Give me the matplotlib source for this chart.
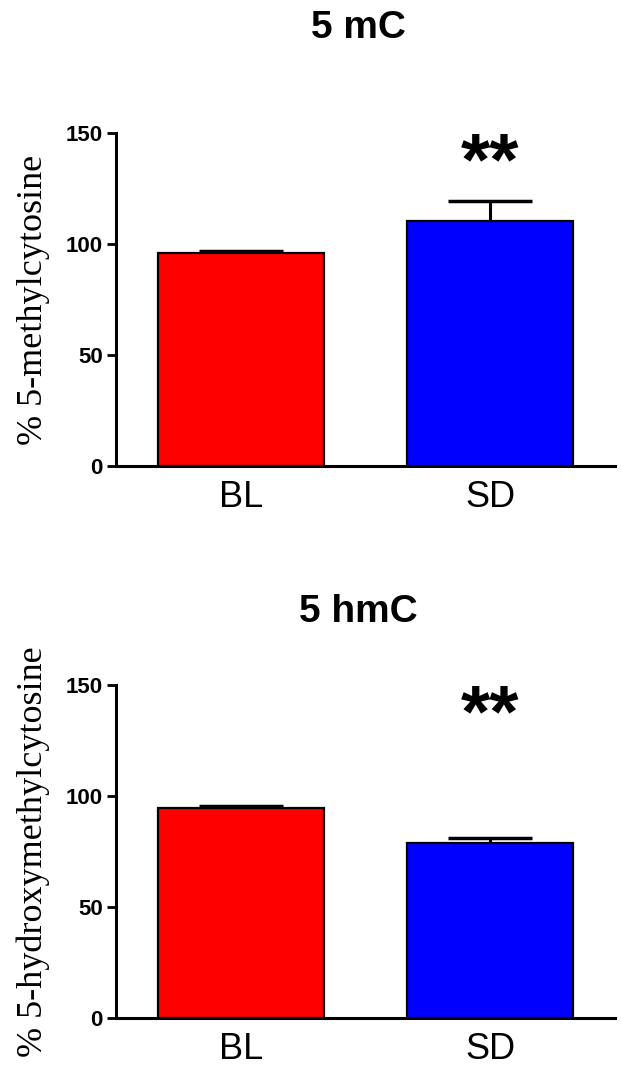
import matplotlib
matplotlib.use("Agg")
import matplotlib.pyplot as plt
import numpy as np

plt.rcParams.update({
    "font.family": ["Liberation Sans", "DejaVu Sans"],
    "figure.dpi": 100,
})

# data
groups = ["BL", "SD"]
mc_means = [96.0, 110.5]
mc_sem = [1.0, 9.0]
hmc_means = [94.5, 79.0]
hmc_sem = [1.0, 2.0]
bar_colors = ["#ff0000", "#0000ff"]

panels = [
    ("5 mC", "% 5-methylcytosine", mc_means, mc_sem),
    ("5 hmC", "% 5-hydroxymethylcytosine", hmc_means, hmc_sem),
]

W, H = 621, 1073
fig = plt.figure(figsize=(W / 100, H / 100), dpi=100)

# axes boxes in pixels: (left, top, right, bottom)
boxes = [(116, 133, 615, 466), (116, 685, 615, 1018)]
title_y = [38, 622]

for (title, ylabel, means, sem), (l, t, r, b), ty in zip(panels, boxes, title_y):
    ax = fig.add_axes([l / W, 1 - b / H, (r - l) / W, (b - t) / H])
    x = np.arange(len(groups))
    ax.bar(x, means, width=0.667, color=bar_colors, edgecolor="black",
           linewidth=1.6, zorder=2)
    _, caps, _ = ax.errorbar(x, means, yerr=[np.zeros(len(sem)), sem],
                             fmt="none", ecolor="black", elinewidth=2.2,
                             capsize=30, capthick=2.5, zorder=3)
    # only the upper cap, as in GraphPad
    caps[0].set_visible(False)
    ax.set_xlim(-0.5, 1.5)
    ax.set_ylim(0, 150)
    ax.set_yticks([0, 50, 100, 150])
    ax.set_xticks(x)
    ax.set_xticklabels(groups, fontsize=26)
    ax.tick_params(axis="x", length=0, pad=10)
    ax.tick_params(axis="y", length=6.5, width=2, pad=3, labelsize=16)
    for lab in ax.get_yticklabels():
        lab.set_fontweight("bold")
    for side in ("top", "right"):
        ax.spines[side].set_visible(False)
    for side in ("left", "bottom"):
        ax.spines[side].set_linewidth(2.2)
    ax.set_ylabel(ylabel, fontsize=26, family=["Liberation Serif", "DejaVu Serif"],
                  labelpad=11)
    ax.text(1, 135.5, "**", ha="center", va="center", fontsize=54,
            fontweight="bold")
    fig.text((l + r) / 2 / W - 0.012, 1 - ty / H, title, ha="center",
             va="baseline", fontsize=28, fontweight="bold")

fig.savefig("out.png", dpi=100)
